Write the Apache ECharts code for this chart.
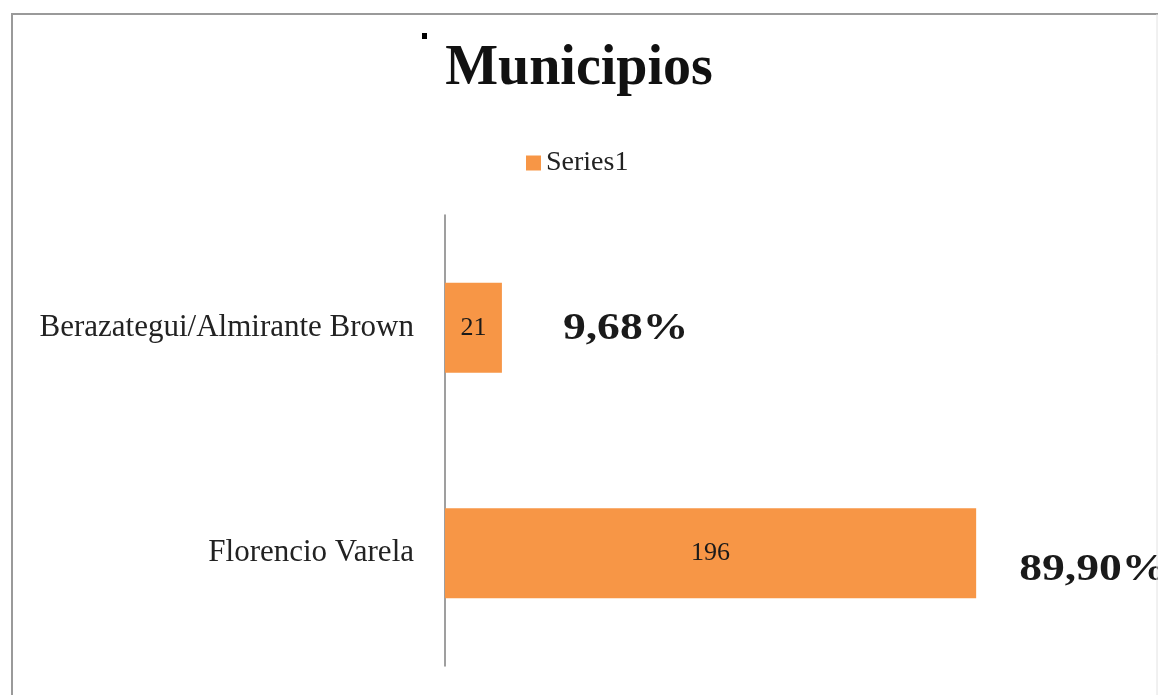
<!DOCTYPE html>
<html>
<head>
<meta charset="utf-8">
<script src="https://cdn.jsdelivr.net/npm/echarts@6/dist/echarts.min.js"></script>
<style>
  html, body { margin: 0; padding: 0; background: #fff; }
  #main { width: 1158px; height: 695px; }
</style>
</head>
<body>
<div id="main"></div>
<script>
// data
var categories = ['Florencio Varela', 'Berazategui/Almirante Brown']
var values = [196, 21]
var percentLabels = ['89,90%', '9,68%']
var seriesName = 'Series1'

var serif = '"Liberation Serif", "Times New Roman", serif'
var myChart = echarts.init(document.getElementById('main'))

var option = {
  backgroundColor: '#fff',
  animation: false,
  title: {
    text: 'Municipios',
    left: 'center',
    top: 37,
    textStyle: { fontFamily: serif, fontWeight: 'bold', fontSize: 56, color: '#111' }
  },
  legend: {
    data: [seriesName],
    left: 521,
    top: 144,
    icon: 'rect',
    itemWidth: 15,
    itemHeight: 15,
    itemGap: 4,
    textStyle: { fontFamily: serif, fontSize: 28, color: '#222', padding: [0, 0, 0, 0] }
  },
  grid: { left: 445, right: 171, top: 215, bottom: 29 },
  xAxis: {
    type: 'value',
    min: 0,
    max: 200,
    show: false
  },
  yAxis: {
    type: 'category',
    data: categories,
    axisLine: { show: true, lineStyle: { color: '#7f7f7f', width: 1.5 } },
    axisTick: { show: false },
    axisLabel: { fontFamily: serif, fontSize: 31, color: '#222', margin: 31 }
  },
  series: [
    {
      name: seriesName,
      type: 'bar',
      barWidth: '40%',
      itemStyle: { color: '#F79646' },
      label: {
        show: true,
        position: 'inside',
        fontFamily: serif,
        fontSize: 26,
        color: '#1a1a1a'
      },
      data: values
    }
  ]
}
myChart.setOption(option)

// percentage notes next to each bar, placed from the axes
var notes = []
var noteOffsets = [[43, 17], [61, 1]]
for (var i = 0; i < categories.length; i++) {
  var p = myChart.convertToPixel({ gridIndex: 0 }, [values[i], categories[i]])
  notes.push({
    type: 'text',
    x: p[0] + noteOffsets[i][0],
    y: p[1] + noteOffsets[i][1],
    scaleX: 1.2,
    style: {
      text: percentLabels[i],
      fontFamily: serif,
      fontWeight: 'bold',
      fontSize: 38,
      fill: '#1a1a1a',
      verticalAlign: 'middle'
    }
  })
}
// frame: top and left solid, right side faint
notes.push({
  type: 'polyline',
  shape: { points: [[12, 700], [12, 14], [1158, 14]] },
  style: { fill: 'none', stroke: '#9a9a9a', lineWidth: 2 },
  silent: true
})
notes.push({
  type: 'line',
  shape: { x1: 1157, y1: 14, x2: 1157, y2: 695 },
  style: { stroke: '#e2e2e2', lineWidth: 1 },
  silent: true
})
notes.push({
  type: 'rect',
  shape: { x: 422, y: 33, width: 5, height: 6 },
  style: { fill: '#000' }
})
myChart.setOption({ graphic: notes })
</script>
</body>
</html>
